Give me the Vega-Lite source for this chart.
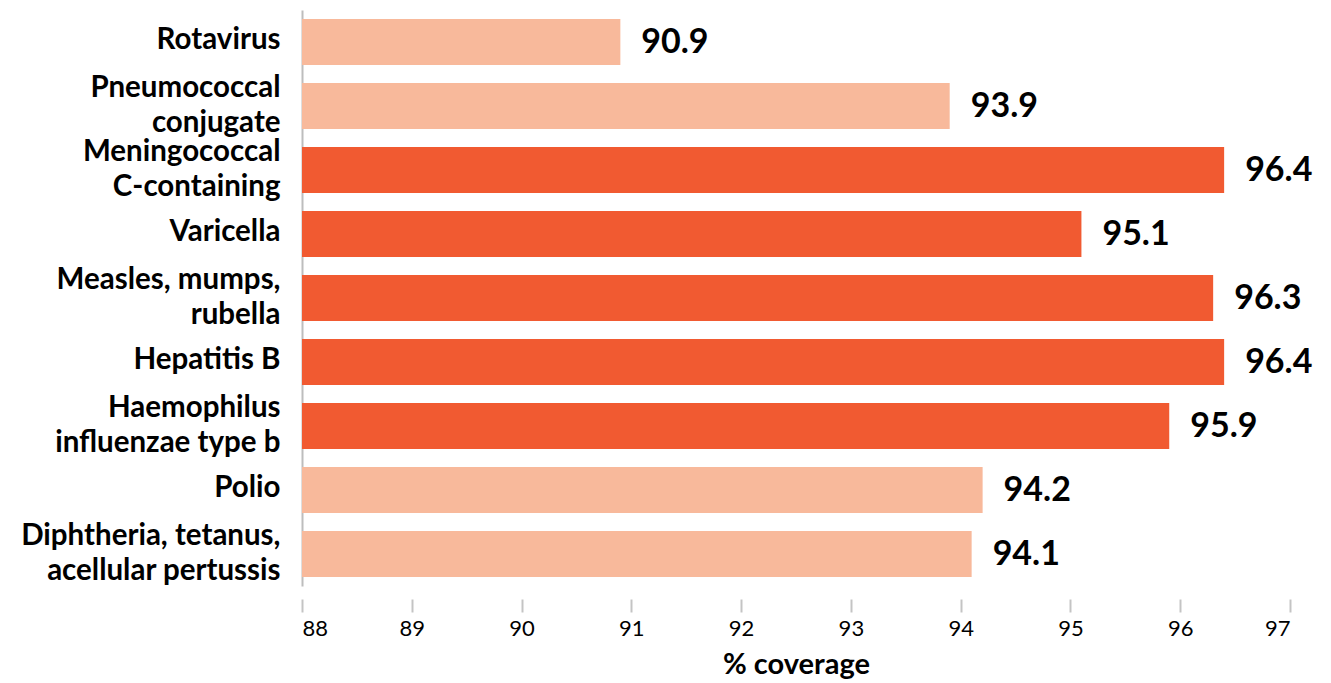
{
  "$schema": "https://vega.github.io/schema/vega-lite/v6.json",
  "width": 988,
  "height": 576,
  "autosize": {"type": "none"},
  "padding": {"left": 302, "top": 10, "right": 41, "bottom": 97},
  "background": "white",
  "config": {
    "view": {"stroke": null},
    "font": "Lato"
  },
  "data": {
    "values": [
      {"vaccine": "Rotavirus", "coverage": 90.9, "group": "light"},
      {"vaccine": "Pneumococcal|conjugate", "coverage": 93.9, "group": "light"},
      {"vaccine": "Meningococcal|C-containing", "coverage": 96.4, "group": "dark"},
      {"vaccine": "Varicella", "coverage": 95.1, "group": "dark"},
      {"vaccine": "Measles, mumps,|rubella", "coverage": 96.3, "group": "dark"},
      {"vaccine": "Hepatitis B", "coverage": 96.4, "group": "dark"},
      {"vaccine": "Haemophilus|influenzae type b", "coverage": 95.9, "group": "dark"},
      {"vaccine": "Polio", "coverage": 94.2, "group": "light"},
      {"vaccine": "Diphtheria, tetanus,|acellular pertussis", "coverage": 94.1, "group": "light"}
    ]
  },
  "encoding": {
    "y": {
      "field": "vaccine",
      "type": "nominal",
      "sort": null,
      "scale": {"paddingInner": 0.28, "paddingOuter": 0.14},
      "axis": {
        "title": null,
        "ticks": false,
        "domainColor": "#bdbdbd",
        "domainWidth": 2,
        "labelExpr": "split(datum.label, '|')",
        "labelFontSize": 29.5,
        "labelFontWeight": "bold",
        "labelColor": "#000000",
        "labelLineHeight": 35,
        "labelPadding": 22,
        "labelLimit": 400,
        "labelOffset": {"expr": "indexof(datum.value, '|') >= 0 ? -18 : -2"}
      }
    },
    "x": {
      "field": "coverage",
      "type": "quantitative",
      "scale": {"domain": [88, 97], "zero": false, "nice": false},
      "axis": {
        "title": "% coverage",
        "titleFontSize": 29,
        "titleFontWeight": "bold",
        "titleColor": "#000000",
        "titlePadding": 11,
        "values": [88, 89, 90, 91, 92, 93, 94, 95, 96, 97],
        "grid": false,
        "domain": false,
        "offset": 13,
        "tickSize": 13,
        "tickWidth": 2,
        "tickColor": "#c4c4c4",
        "labelFontSize": 22,
        "labelColor": "#000000",
        "labelPadding": 6
      }
    }
  },
  "layer": [
    {
      "mark": {"type": "bar"},
      "encoding": {
        "x2": {"datum": 88},
        "color": {
          "field": "group",
          "type": "nominal",
          "scale": {"domain": ["light", "dark"], "range": ["#F8B99B", "#F15A31"]},
          "legend": null
        }
      }
    },
    {
      "mark": {"type": "text", "align": "left", "baseline": "middle", "dx": 21, "dy": 1, "fontSize": 34, "fontWeight": "bold", "color": "#000000"},
      "encoding": {
        "text": {"field": "coverage", "type": "quantitative", "format": ".1f"}
      }
    }
  ]
}
